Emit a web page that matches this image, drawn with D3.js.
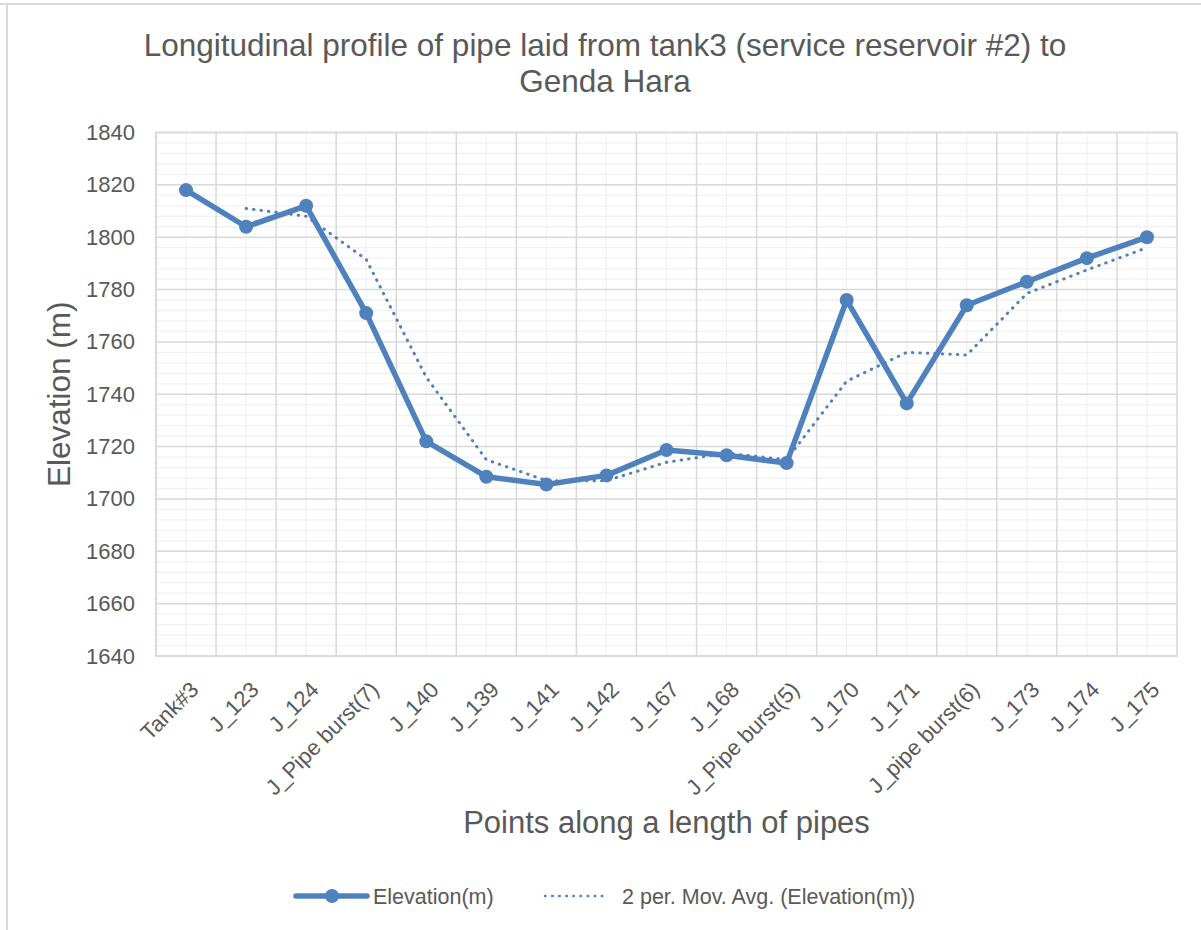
<!DOCTYPE html>
<html>
<head>
<meta charset="utf-8">
<script src="https://cdn.jsdelivr.net/npm/d3@7"></script>
<style>
    body{ margin:0; background:#fff; }
    svg text{ font-family:"Liberation Sans", Arial, sans-serif; fill:#595959; }
</style>
</head>
<body>
<svg id="chart" width="1201" height="930"></svg>
<script>
const categories = ['Tank#3', 'J_123', 'J_124', 'J_Pipe burst(7)', 'J_140', 'J_139', 'J_141', 'J_142',
    'J_167', 'J_168', 'J_Pipe burst(5)', 'J_170', 'J_171', 'J_pipe burst(6)', 'J_173', 'J_174', 'J_175'];
const elevation = [1818, 1804, 1812, 1771, 1722, 1708.5, 1705.5, 1709, 1718.7, 1716.7, 1713.7,
    1776, 1736.5, 1774, 1783, 1792, 1800];
// values of the dotted trendline (none for the first point)
const movingAvg = [null, 1811, 1808, 1791.5, 1746.5, 1715, 1707, 1707, 1714, 1717.5, 1715,
    1745, 1756, 1755, 1778.5, 1787.5, 1796];
const yTicks = [1640, 1660, 1680, 1700, 1720, 1740, 1760, 1780, 1800, 1820, 1840];
const titleLines = ['Longitudinal profile of pipe laid from tank3 (service reservoir #2) to', 'Genda Hara'];
const seriesNames = ['Elevation(m)', '2 per. Mov. Avg. (Elevation(m))'];

class ProfileChart{

    constructor(svg){
        this.svg = svg;
        this.left = 156;
        this.right = 1177;
        this.top = 132.5;
        this.bottom = 656;
        this.blue = '#4f81bd';
        this.major = '#d9d9d9';
        this.minor = '#f2f2f2';

        this.x = d3.scaleBand().domain(categories).range([this.left, this.right]);
        this.y = d3.scaleLinear().domain([1640, 1840]).range([this.bottom, this.top]);
    }

    cx(c){
        return this.x(c) + this.x.bandwidth()/2;
    }

    drawFrame(){
        this.svg.append('line').attr('x1', 0).attr('x2', 1201).attr('y1', 4).attr('y2', 4)
            .style('stroke', '#d9d9d9').style('stroke-width', 2);
        this.svg.append('line').attr('x1', 7).attr('x2', 7).attr('y1', 4).attr('y2', 930)
            .style('stroke', '#d9d9d9').style('stroke-width', 2);

        this.svg.selectAll('.title').data(titleLines).enter()
            .append('text')
            .attr('x', 605)
            .attr('y', (d, i)=> 56 + i*36)
            .attr('text-anchor', 'middle')
            .style('font-size', '31.5px')
            .text(d=>d);
    }

    drawGrid(){
        let g = this.svg.append('g');
        let minorY = d3.range(1640, 1841, 4).filter(v=> v % 20 != 0);

        g.selectAll('.minorY').data(minorY).enter().append('line')
            .attr('x1', this.left).attr('x2', this.right)
            .attr('y1', d=>this.y(d)).attr('y2', d=>this.y(d))
            .style('stroke', this.minor).style('stroke-width', 1.3);

        g.selectAll('.minorX').data(categories).enter().append('line')
            .attr('x1', d=>this.cx(d)).attr('x2', d=>this.cx(d))
            .attr('y1', this.top).attr('y2', this.bottom)
            .style('stroke', this.minor).style('stroke-width', 1.3);

        g.selectAll('.majorY').data(yTicks).enter().append('line')
            .attr('x1', this.left).attr('x2', this.right)
            .attr('y1', d=>this.y(d)).attr('y2', d=>this.y(d))
            .style('stroke', this.major).style('stroke-width', 1.5);

        g.selectAll('.majorX').data(categories).enter().append('line')
            .attr('x1', d=>this.x(d)).attr('x2', d=>this.x(d))
            .attr('y1', this.top).attr('y2', this.bottom)
            .style('stroke', this.major).style('stroke-width', 1.5);

        g.append('rect')
            .attr('x', this.left).attr('y', this.top)
            .attr('width', this.right - this.left).attr('height', this.bottom - this.top)
            .style('fill', 'none').style('stroke', this.major).style('stroke-width', 1.6);
    }

    drawAxes(){
        let yAxis = this.svg.append('g')
            .attr('transform', 'translate(' + (this.left - 21) + ',0)')
            .call(d3.axisLeft(this.y).tickValues(yTicks).tickFormat(d3.format('d')).tickSize(0).tickPadding(0));
        yAxis.select('.domain').remove();
        yAxis.selectAll('text').style('font-size', '22px').style('fill', '#595959')
            .style('font-family', '"Liberation Sans", Arial, sans-serif');

        let xAxis = this.svg.append('g')
            .attr('transform', 'translate(0,' + this.bottom + ')')
            .call(d3.axisBottom(this.x).tickSize(0));
        xAxis.select('.domain').remove();
        xAxis.selectAll('text')
            .attr('y', 0)
            .attr('dy', 0)
            .attr('text-anchor', 'end')
            .attr('transform', 'translate(14,35) rotate(-45)')
            .style('font-size', '22px').style('fill', '#595959')
            .style('font-family', '"Liberation Sans", Arial, sans-serif');

        this.svg.append('text')
            .attr('transform', 'translate(70,' + (this.top + this.bottom)/2 + ') rotate(-90)')
            .attr('text-anchor', 'middle')
            .style('font-size', '31.5px')
            .text('Elevation (m)');

        this.svg.append('text')
            .attr('x', (this.left + this.right)/2)
            .attr('y', 833)
            .attr('text-anchor', 'middle')
            .style('font-size', '31px')
            .text('Points along a length of pipes');
    }

    drawSeries(){
        let avgLine = d3.line()
            .defined(d=> d != null)
            .x((d, i)=> this.cx(categories[i]))
            .y(d=> this.y(d));

        this.svg.append('path')
            .datum(movingAvg)
            .attr('d', avgLine)
            .style('fill', 'none')
            .style('stroke', this.blue)
            .style('stroke-width', 3)
            .style('stroke-linecap', 'round')
            .style('stroke-dasharray', '0.5 7');

        let line = d3.line()
            .x((d, i)=> this.cx(categories[i]))
            .y(d=> this.y(d));

        this.svg.append('path')
            .datum(elevation)
            .attr('d', line)
            .style('fill', 'none')
            .style('stroke', this.blue)
            .style('stroke-width', 5.5)
            .style('stroke-linejoin', 'round');

        this.svg.selectAll('.marker').data(elevation).enter()
            .append('circle')
            .attr('cx', (d, i)=> this.cx(categories[i]))
            .attr('cy', d=> this.y(d))
            .attr('r', 7)
            .style('fill', this.blue);
    }

    drawLegend(){
        let ly = 896;
        let g = this.svg.append('g');

        g.append('line').attr('x1', 296).attr('x2', 367).attr('y1', ly).attr('y2', ly)
            .style('stroke', this.blue).style('stroke-width', 5.5).style('stroke-linecap', 'round');
        g.append('circle').attr('cx', 332).attr('cy', ly).attr('r', 7).style('fill', this.blue);
        g.append('text').attr('x', 373).attr('y', ly + 7.5)
            .style('font-size', '21.5px').text(seriesNames[0]);

        g.append('line').attr('x1', 545).attr('x2', 603).attr('y1', ly).attr('y2', ly)
            .style('stroke', this.blue).style('stroke-width', 2.5)
            .style('stroke-linecap', 'round').style('stroke-dasharray', '0.5 6.6');
        g.append('text').attr('x', 622).attr('y', ly + 7.5)
            .style('font-size', '21.5px').text(seriesNames[1]);
    }

    draw(){
        this.drawFrame();
        this.drawGrid();
        this.drawAxes();
        this.drawSeries();
        this.drawLegend();
    }
}

let chart = new ProfileChart(d3.select('#chart'));
chart.draw();
</script>
</body>
</html>
